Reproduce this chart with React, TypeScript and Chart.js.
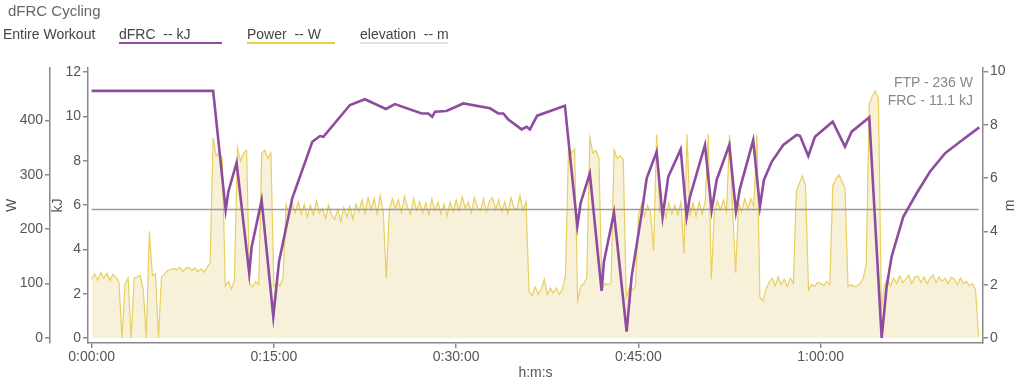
import React, { useEffect, useRef } from "react";
import { Chart, registerables } from "chart.js";

Chart.register(...registerables);

// ---------- data ----------
const SAMPLE_MIN = 0.25; // power sample spacing, minutes

// Power (W), one row per minute, 4 samples per row
const powerW = [
  108, 118, 106, 120,
  110, 119, 106, 117,
  112, 102, 0, 100,
  110, 0, 110, 112,
  115, 88, 0, 196,
  115, 118, 0, 112,
  118, 124, 126, 128,
  125, 130, 122, 128,
  130, 124, 129, 122,
  127, 121, 130, 138,
  368, 335, 340, 330,
  95, 104, 90, 106,
  350, 325, 340, 345,
  100, 94, 104, 98,
  340, 345, 330, 340,
  95, 102, 96, 110,
  245, 226, 248, 230,
  250, 228, 246, 222,
  244, 226, 252, 230,
  238, 220, 244, 226,
  218, 236, 214, 240,
  222, 242, 218, 246,
  232, 254, 230, 258,
  236, 256, 228, 262,
  232, 110, 236, 256,
  238, 254, 230, 260,
  240, 228, 256, 234,
  250, 230, 248, 226,
  256, 234, 250, 228,
  246, 224, 250, 232,
  254, 234, 260, 238,
  250, 230, 258, 240,
  234, 256, 232, 252,
  258, 236, 254, 232,
  250, 228, 258, 240,
  236, 262, 234, 250,
  85, 78, 94, 80,
  90, 108, 80, 92,
  82, 92, 80, 90,
  115, 355, 340, 348,
  68, 95, 100, 110,
  368, 340, 345, 330,
  90, 100, 98, 102,
  346, 330, 335, 328,
  75, 92, 88, 95,
  225, 246, 224, 244,
  230, 160, 374, 232,
  246, 222, 248, 228,
  244, 226, 250, 155,
  375, 226, 248, 224,
  250, 228, 252, 375,
  108, 230, 252, 236,
  254, 232, 374, 240,
  120, 248, 232, 256,
  238, 256, 242, 374,
  75, 68, 90, 102,
  110, 96, 112, 98,
  108, 94, 110, 100,
  270, 285, 298, 280,
  88, 98, 95, 102,
  100, 96, 104, 98,
  280, 292, 300, 288,
  275, 95, 98, 94,
  96, 100, 110, 135,
  430, 445, 454, 440,
  52, 98, 108, 96,
  110, 100, 114, 102,
  108, 116, 100, 112,
  114, 102, 112, 100,
  110, 116, 102, 112,
  104, 110, 100, 112,
  108, 98, 110, 100,
  104, 96, 100, 88,
  2,
];

// dFRC (kJ) at times (minutes)
const dfrcTime = [
  0, 10.0, 11.03, 11.25, 11.93, 12.97, 13.17, 13.99, 14.95, 15.42, 16.51, 18.16,
  18.79, 19.07, 21.26, 22.49, 24.22, 24.96, 27.16, 27.7, 28.03, 28.26, 29.2,
  30.59, 32.78, 33.47, 33.88, 34.29, 35.39, 35.8, 36.07, 36.67, 38.95, 39.97,
  40.25, 41.0, 41.97, 42.16, 42.99, 44.03, 44.44, 45.27, 45.68, 46.5, 46.99,
  47.46, 48.48, 48.97, 49.24, 50.48, 51.03, 51.44, 52.48, 53.03, 53.36, 54.45,
  55.0, 55.33, 55.97, 56.92, 58.02, 58.3, 58.98, 59.53, 60.99, 62.0, 62.55,
  64.0, 65.02, 65.43, 65.84, 66.8, 67.9, 68.99, 70.23, 71.47, 73.05,
];
const dfrcKJ = [
  11.15, 11.15, 5.77, 6.6, 7.91, 2.92, 4.12, 6.22, 0.96, 3.44, 6.3, 8.85,
  9.11, 9.08, 10.51, 10.77, 10.33, 10.55, 10.13, 10.13, 9.98, 10.21, 10.24,
  10.58, 10.36, 10.13, 10.13, 9.86, 9.41, 9.53, 9.41, 10.03, 10.48, 5.04,
  6.1, 7.42, 2.13, 3.44, 5.65, 0.29, 2.77, 5.62, 7.2, 8.4, 5.47,
  7.28, 8.51, 5.47, 6.37, 8.71, 5.77, 7.13, 8.71, 5.7, 6.75, 8.93,
  5.92, 7.13, 7.95, 8.71, 9.16, 9.12, 8.21, 9.08, 9.76, 8.63, 9.31,
  9.95, 0.0, 2.31, 3.67, 5.47, 6.53, 7.5, 8.33, 8.85, 9.5,
];

const elevationM: number[] = [];

const FTP_W = 236;
const FRC_KJ = 11.1;
const ftpTime = [0, 73.0];

const xTicks = [0, 15, 30, 45, 60];
const wTicks = [0, 100, 200, 300, 400];
const kjTicks = [0, 2, 4, 6, 8, 10, 12];
const mTicks = [0, 2, 4, 6, 8, 10];

// ---------- styles ----------
const FONT = '"Liberation Sans", Helvetica, Arial, sans-serif';
const AXIS = "#8a8a8a";
const LABEL = "#555";

function fmtHMS(min: number) {
  const s = Math.round(min * 60);
  const h = Math.floor(s / 3600);
  const m = Math.floor((s % 3600) / 60);
  const sec = s % 60;
  return `${h}:${String(m).padStart(2, "0")}:${String(sec).padStart(2, "0")}`;
}

const rightTitlePlugin = {
  id: "rightTitle",
  afterDraw(chart: any) {
    const ctx = chart.ctx;
    const a = chart.chartArea;
    ctx.save();
    ctx.translate(1010, (a.top + a.bottom) / 2);
    ctx.rotate(-Math.PI / 2);
    ctx.fillStyle = LABEL;
    ctx.font = `14px ${FONT}`;
    ctx.textAlign = "center";
    ctx.textBaseline = "middle";
    ctx.fillText("m", 0, 0);
    ctx.restore();
  },
};

function axisCommon(ticks: number[], width: number) {
  return {
    afterBuildTicks: (s: any) => {
      s.ticks = ticks.map((v) => ({ value: v }));
    },
    afterFit: (s: any) => {
      s.width = width;
    },
    grid: {
      drawOnChartArea: false,
      drawTicks: true,
      tickLength: 5,
      color: AXIS,
      lineWidth: 1.5,
    },
    border: { display: true, color: AXIS, width: 1.5 },
    ticks: {
      color: LABEL,
      font: { family: FONT, size: 14 },
      padding: 2,
      autoSkip: false,
    },
  };
}

function ChartCanvas() {
  const ref = useRef<HTMLCanvasElement | null>(null);
  useEffect(() => {
    if (!ref.current) return;
    const power = powerW.map((w, i) => ({ x: i * SAMPLE_MIN, y: w }));
    const dfrc = dfrcTime.map((t, i) => ({ x: t, y: dfrcKJ[i] }));
    const ftp = ftpTime.map((t) => ({ x: t, y: FTP_W }));
    const chart = new Chart(ref.current, {
      type: "line",
      data: {
        datasets: [
          {
            label: "dFRC",
            data: dfrc,
            yAxisID: "yKJ",
            borderColor: "#8e4c9e",
            borderWidth: 2.6,
            pointRadius: 0,
            fill: false,
            tension: 0,
          },
          {
            label: "FTP",
            data: ftp,
            yAxisID: "yW",
            borderColor: "#9a9a9a",
            borderWidth: 1.5,
            pointRadius: 0,
            fill: false,
          },
          {
            label: "elevation",
            data: elevationM,
            yAxisID: "yM",
            borderColor: "#d5e6cf",
            borderWidth: 2,
            pointRadius: 0,
            fill: false,
          },
          {
            label: "Power",
            data: power,
            yAxisID: "yW",
            borderColor: "#e8cf5e",
            borderWidth: 1.2,
            backgroundColor: "#f8f1da",
            pointRadius: 0,
            fill: "origin",
            tension: 0,
          },
        ],
      },
      options: {
        animation: false,
        responsive: false,
        events: [],
        layout: { padding: { top: 68, left: 0, right: 0, bottom: 0 } },
        plugins: {
          legend: { display: false },
          tooltip: { enabled: false },
          title: { display: false },
        },
        scales: {
          x: {
            type: "linear",
            position: "bottom",
            min: -0.3,
            max: 73.36,
            afterBuildTicks: (s: any) => {
              s.ticks = xTicks.map((v) => ({ value: v }));
            },
            afterFit: (s: any) => {
              s.height = 42;
            },
            grid: {
              drawOnChartArea: false,
              drawTicks: true,
              tickLength: 5,
              color: AXIS,
              lineWidth: 1.5,
            },
            border: { display: true, color: AXIS, width: 1.5 },
            ticks: {
              color: LABEL,
              font: { family: FONT, size: 14 },
              padding: 1,
              autoSkip: false,
              maxRotation: 0,
              callback: (v: any) => fmtHMS(Number(v)),
            },
            title: {
              display: true,
              text: "h:m:s",
              color: LABEL,
              font: { family: FONT, size: 14 },
              padding: { top: 0, bottom: 3 },
            },
          },
          yW: {
            type: "linear",
            position: "left",
            weight: 2,
            min: -9.2,
            max: 496.3,
            ...axisCommon(wTicks, 50),
            title: {
              display: true,
              text: "W",
              color: LABEL,
              font: { family: FONT, size: 14 },
              padding: { top: 4, bottom: 0 },
            },
          },
          yKJ: {
            type: "linear",
            position: "left",
            weight: 1,
            min: -0.226,
            max: 12.18,
            ...axisCommon(kjTicks, 38),
            title: {
              display: true,
              text: "kJ",
              color: LABEL,
              font: { family: FONT, size: 14 },
              padding: { top: 0, bottom: 0 },
            },
          },
          yM: {
            type: "linear",
            position: "right",
            min: -0.1875,
            max: 10.125,
            ...axisCommon(mTicks, 41),
          },
        },
      } as any,
      plugins: [rightTitlePlugin],
    });
    return () => chart.destroy();
  }, []);
  return (
    <canvas
      ref={ref}
      width={1024}
      height={385}
      style={{ position: "absolute", left: 0, top: 0, width: 1024, height: 385 }}
    />
  );
}

const legendItems = [
  { text: "dFRC  -- kJ", color: "#8e4c9e", left: 119, width: 103 },
  { text: "Power  -- W", color: "#e8d04e", left: 247, width: 88 },
  { text: "elevation  -- m", color: "#d8e8d2", left: 360, width: 88 },
];

export default function App() {
  return (
    <div
      style={{
        position: "fixed",
        left: 0,
        top: 0,
        width: 1024,
        height: 385,
        background: "#fff",
        fontFamily: FONT,
        overflow: "hidden",
      }}
    >
      <ChartCanvas />
      <div style={{ position: "absolute", left: 8, top: 2, fontSize: 15, color: "#666", lineHeight: "18px" }}>
        dFRC Cycling
      </div>
      <div style={{ position: "absolute", left: 3, top: 26, fontSize: 14, color: "#444", lineHeight: "16px" }}>
        Entire Workout
      </div>
      {legendItems.map((l) => (
        <div
          key={l.text}
          style={{
            position: "absolute",
            left: l.left,
            top: 26,
            width: l.width,
            fontSize: 14,
            color: "#444",
            lineHeight: "16px",
            whiteSpace: "pre",
            borderBottom: `2.5px solid ${l.color}`,
          }}
        >
          {l.text}
        </div>
      ))}
      <div
        style={{
          position: "absolute",
          right: 51,
          top: 73,
          fontSize: 14,
          color: "#888",
          lineHeight: "18px",
          textAlign: "right",
        }}
      >
        <div>{`FTP - ${FTP_W} W`}</div>
        <div>{`FRC - ${FRC_KJ} kJ`}</div>
      </div>
    </div>
  );
}
